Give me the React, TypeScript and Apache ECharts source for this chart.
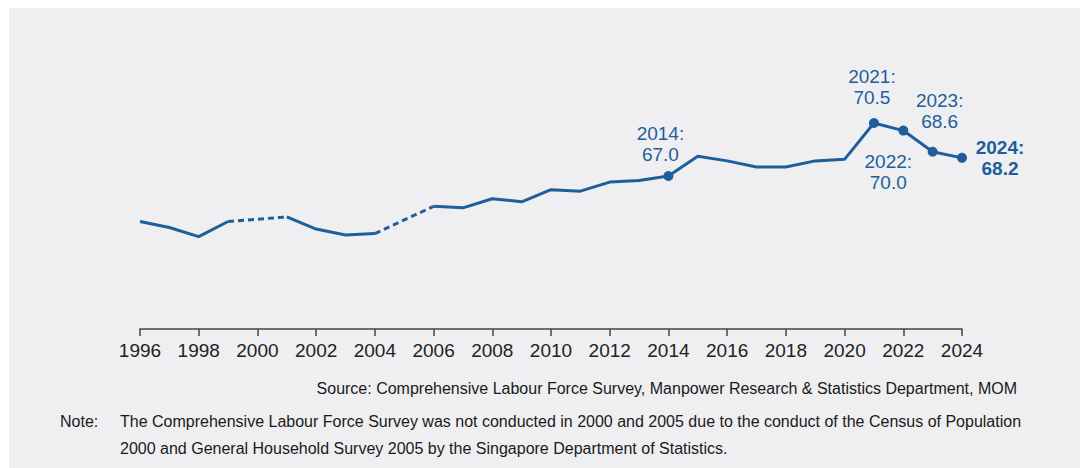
import React, { useEffect, useRef } from "react";
import * as echarts from "echarts";

const years: string[] = [
  "1996", "1997", "1998", "1999", "2000", "2001", "2002", "2003", "2004", "2005",
  "2006", "2007", "2008", "2009", "2010", "2011", "2012", "2013", "2014", "2015",
  "2016", "2017", "2018", "2019", "2020", "2021", "2022", "2023", "2024",
];

// Labour force participation rate (%); null = survey not conducted
const rates: (number | null)[] = [
  64.0, 63.6, 63.0, 64.0, null, 64.3, 63.5, 63.1, 63.2, null,
  65.0, 64.9, 65.5, 65.3, 66.1, 66.0, 66.6, 66.7, 67.0, 68.3,
  68.0, 67.6, 67.6, 68.0, 68.1, 70.5, 70.0, 68.6, 68.2,
];

// years bridged by dashed lines (gaps in the survey)
const gapBridges: [string, string][] = [
  ["1999", "2001"],
  ["2004", "2006"],
];

const annotatedYears: string[] = ["2014", "2021", "2022", "2023", "2024"];

const sourceText =
  "Source: Comprehensive Labour Force Survey, Manpower Research & Statistics Department, MOM";
const noteLabel = "Note:";
const noteLines: string[] = [
  "The Comprehensive Labour Force Survey was not conducted in 2000 and 2005 due to the conduct of the Census of Population",
  "2000 and General Household Survey 2005 by the Singapore Department of Statistics.",
];

const FONT = '"Liberation Sans", Arial, Helvetica, sans-serif';
const BLUE = "#1d5e9b";

const labelStyles: Record<string, any> = {
  "2014": { position: "top", distance: 6, offset: [-8, 0], verticalAlign: "bottom" },
  "2021": { position: "top", distance: 10, offset: [-2, 0], verticalAlign: "bottom" },
  "2022": { position: "bottom", distance: 15, offset: [-15, 0], verticalAlign: "top" },
  "2023": { position: "top", distance: 15, offset: [7, 0], verticalAlign: "bottom" },
  "2024": { position: "right", distance: 8, offset: [25, 0], verticalAlign: "middle", fontWeight: "bold" },
};

export default function App() {
  const ref = useRef<HTMLDivElement>(null);

  useEffect(() => {
    if (!ref.current) return;
    const chart = echarts.init(ref.current, undefined, { renderer: "svg" });

    const solidData = rates.map((v, i) => {
      const y = years[i];
      if (v === null) return null;
      if (annotatedYears.includes(y)) {
        const ls = labelStyles[y];
        return {
          value: v,
          symbol: "circle",
          symbolSize: 10,
          label: {
            show: true,
            formatter: `${y}:\n${v.toFixed(1)}`,
            position: ls.position,
            distance: ls.distance,
            offset: ls.offset,
            fontWeight: ls.fontWeight || "normal",
            color: BLUE,
            fontSize: 19,
            lineHeight: 21,
            fontFamily: FONT,
            align: "center",
            verticalAlign: ls.verticalAlign,
          },
        };
      }
      return { value: v, symbol: "none" };
    });

    const dashedSeries = gapBridges.map(([a, b]) => ({
      type: "line",
      connectNulls: true,
      symbol: "none",
      silent: true,
      lineStyle: { color: BLUE, width: 3, type: [6, 4] },
      data: years.map((y, i) => (y === a || y === b ? rates[i] : null)),
      z: 2,
    }));

    chart.setOption({
      animation: false,
      backgroundColor: "#ffffff",
      grid: { left: 140, right: 118, top: 70, bottom: 139 },
      xAxis: {
        type: "category",
        data: years,
        boundaryGap: false,
        axisLine: { lineStyle: { color: "#444", width: 1.5 } },
        axisTick: { show: true, length: 7, interval: 1, lineStyle: { color: "#444", width: 1.5 } },
        axisLabel: {
          interval: 1,
          color: "#222",
          fontSize: 19,
          fontFamily: FONT,
          margin: 12,
        },
        splitLine: { show: false },
      },
      yAxis: {
        type: "value",
        min: 56.9,
        max: 74,
        show: false,
        splitLine: { show: false },
      },
      graphic: [
        {
          type: "rect",
          shape: { x: 9, y: 8, width: 1071, height: 460 },
          style: { fill: "#efeff1" },
          z: -10,
          silent: true,
        },
        {
          type: "text",
          x: 1017,
          y: 388,
          style: {
            text: sourceText,
            fill: "#1a1a1a",
            font: `16px ${FONT}`,
            textAlign: "right",
            textVerticalAlign: "middle",
          },
        },
        {
          type: "text",
          x: 60,
          y: 421,
          style: {
            text: noteLabel,
            fill: "#1a1a1a",
            font: `16px ${FONT}`,
            textAlign: "left",
            textVerticalAlign: "middle",
          },
        },
        ...noteLines.map((t, i) => ({
          type: "text",
          x: 120,
          y: 421 + i * 27,
          style: {
            text: t,
            fill: "#1a1a1a",
            font: `16px ${FONT}`,
            textAlign: "left",
            textVerticalAlign: "middle",
          },
        })),
      ],
      series: [
        {
          type: "line",
          connectNulls: false,
          data: solidData,
          lineStyle: { color: BLUE, width: 3 },
          itemStyle: { color: BLUE },
          z: 3,
        },
        ...dashedSeries,
      ],
    });

    return () => chart.dispose();
  }, []);

  return (
    <div
      ref={ref}
      style={{ position: "fixed", left: 0, top: 0, width: 1080, height: 468 }}
    />
  );
}
